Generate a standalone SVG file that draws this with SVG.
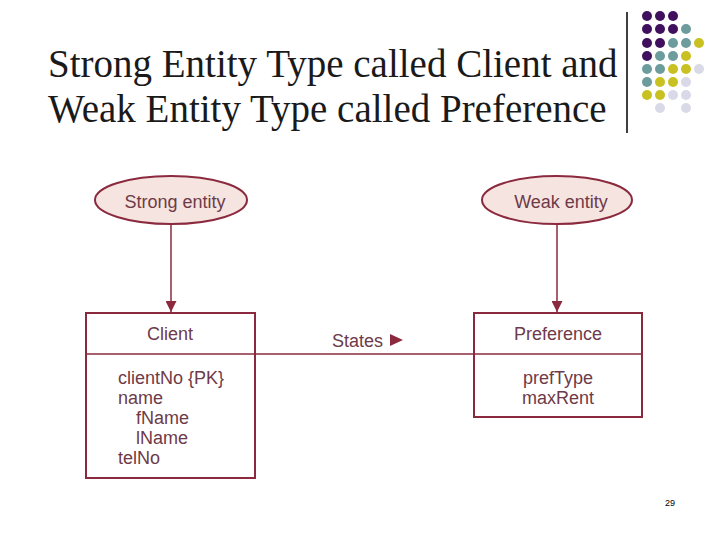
<svg xmlns="http://www.w3.org/2000/svg" width="720" height="540" viewBox="0 0 720 540">
<defs>
<style>
.title{font-family:"Liberation Serif","Times New Roman",serif;font-size:39px;fill:#1a1a1a}
.t{font-family:"Liberation Sans",Arial,sans-serif;font-size:18px;fill:#6e3a48}
.ell{fill:#f6e4e0;stroke:#8b2a3e;stroke-width:2}
.box{fill:#fff;stroke:#8b2a3e;stroke-width:2}
.ln{stroke:#8b2a3e;stroke-width:1.5;fill:none}
.P{fill:#40105e}.T{fill:#6d9c9c}.Y{fill:#c9c021}.L{fill:#d9d9e8}
</style>
<marker id="arr" viewBox="0 0 10 10" refX="10" refY="5" markerWidth="11" markerHeight="11" markerUnits="userSpaceOnUse" orient="auto">
<path d="M0,0 L10,5 L0,10 Z" fill="#8b2a3e"/>
</marker>
</defs>
<rect width="720" height="540" fill="#fff"/>
<g id="title">
<text class="title" x="48" y="77">Strong Entity Type called Client and</text>
<text class="title" x="48" y="122">Weak Entity Type called Preference</text>
</g>
<g id="decor">
<line x1="627" y1="12" x2="627" y2="133" stroke="#000" stroke-width="1.5"/>
<circle class="P" cx="647" cy="16" r="5"/><circle class="P" cx="660" cy="16" r="5"/><circle class="P" cx="673" cy="16" r="5"/>
<circle class="P" cx="647" cy="29" r="5"/><circle class="P" cx="660" cy="29" r="5"/><circle class="P" cx="673" cy="29" r="5"/><circle class="T" cx="686" cy="29" r="5"/>
<circle class="P" cx="647" cy="43" r="5"/><circle class="P" cx="660" cy="43" r="5"/><circle class="T" cx="673" cy="43" r="5"/><circle class="T" cx="686" cy="43" r="5"/><circle class="Y" cx="699" cy="43" r="5"/>
<circle class="P" cx="647" cy="56" r="5"/><circle class="T" cx="660" cy="56" r="5"/><circle class="T" cx="673" cy="56" r="5"/><circle class="Y" cx="686" cy="56" r="5"/>
<circle class="T" cx="647" cy="69" r="5"/><circle class="T" cx="660" cy="69" r="5"/><circle class="Y" cx="673" cy="69" r="5"/><circle class="Y" cx="686" cy="69" r="5"/><circle class="L" cx="699" cy="69" r="5"/>
<circle class="T" cx="647" cy="82" r="5"/><circle class="Y" cx="660" cy="82" r="5"/><circle class="Y" cx="673" cy="82" r="5"/><circle class="L" cx="686" cy="82" r="5"/>
<circle class="Y" cx="647" cy="95" r="5"/><circle class="Y" cx="660" cy="95" r="5"/><circle class="L" cx="673" cy="95" r="5"/><circle class="L" cx="686" cy="95" r="5"/>
<circle class="L" cx="660" cy="108" r="5"/><circle class="L" cx="686" cy="108" r="5"/>
</g>
<g id="connectors">
<line class="ln" x1="171" y1="224" x2="171" y2="312" marker-end="url(#arr)"/>
<line class="ln" x1="557" y1="225" x2="557" y2="312" marker-end="url(#arr)"/>
<line class="ln" x1="255" y1="354" x2="474" y2="354"/>
<text class="t" x="332" y="347">States</text>
<path d="M390,334 L403,340 L390,346 Z" fill="#8b2a3e"/>
</g>
<g id="strong-entity">
<ellipse class="ell" cx="171" cy="200" rx="76" ry="24"/>
<text class="t" x="175" y="208" text-anchor="middle">Strong entity</text>
</g>
<g id="weak-entity">
<ellipse class="ell" cx="557" cy="200" rx="75" ry="24"/>
<text class="t" x="561" y="208" text-anchor="middle">Weak entity</text>
</g>
<g id="client">
<rect class="box" x="86" y="313" width="169" height="165"/>
<line class="ln" x1="86" y1="354" x2="255" y2="354"/>
<text class="t" x="170" y="340" text-anchor="middle">Client</text>
<text class="t" x="118" y="384">clientNo {PK}</text>
<text class="t" x="118" y="404">name</text>
<text class="t" x="136" y="424">fName</text>
<text class="t" x="136" y="444">lName</text>
<text class="t" x="118" y="464">telNo</text>
</g>
<g id="preference">
<rect class="box" x="474" y="313" width="168" height="104"/>
<line class="ln" x1="474" y1="354" x2="642" y2="354"/>
<text class="t" x="558" y="340" text-anchor="middle">Preference</text>
<text class="t" x="558" y="384" text-anchor="middle">prefType</text>
<text class="t" x="558" y="404" text-anchor="middle">maxRent</text>
</g>
<text x="670" y="506" font-family="Liberation Sans,Arial,sans-serif" font-size="9" fill="#000" text-anchor="middle">29</text>
</svg>
